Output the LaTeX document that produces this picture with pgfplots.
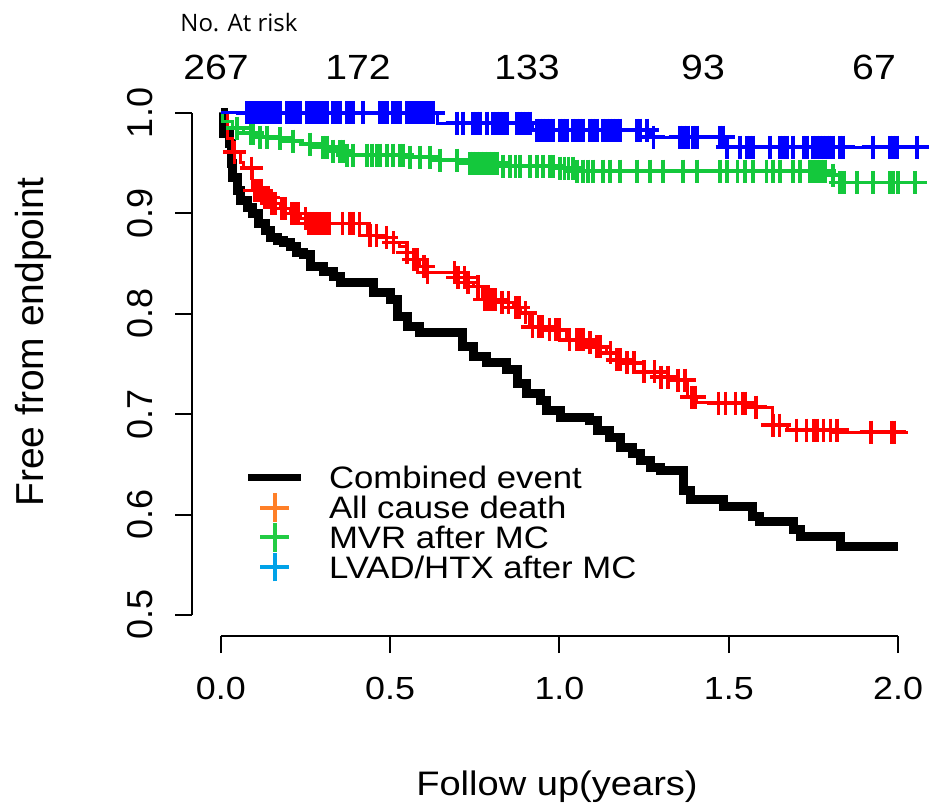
\documentclass[border=0pt]{standalone}
\usepackage{fontspec}
\setmainfont{Liberation Sans}
\newfontfamily\widefont[FakeStretch=1.12]{Liberation Sans}
\newfontfamily\risknote{Open Sans}
\usepackage{pgfplots}
\pgfplotsset{compat=1.18}

\definecolor{kmred}{RGB}{255,0,0}
\definecolor{kmgreen}{RGB}{20,200,60}
\definecolor{kmblue}{RGB}{0,0,255}
\definecolor{legorange}{RGB}{255,127,39}
\definecolor{leggreen}{RGB}{34,204,68}
\definecolor{legblue}{RGB}{0,162,232}

\begin{document}
\begin{tikzpicture}
\useasboundingbox (0,0) rectangle (464.5pt,402.5pt);
\begin{axis}[
  at={(96pt,84.5pt)}, anchor=south west,
  scale only axis, width=366.6pt, height=271.55pt,
  xmin=-0.085, xmax=2.08, ymin=0.479, ymax=1.02,
  axis x line*=bottom, axis y line*=left,
  axis line style={draw=none},
  clip=false,
  tick align=outside,
  major tick length=8.5pt,
  major tick style={black, line width=1pt},
  xtick={0,0.5,1,1.5,2}, xticklabels={0.0,0.5,1.0,1.5,2.0},
  ytick={0.5,0.6,0.7,0.8,0.9,1.0}, yticklabels={0.5,0.6,0.7,0.8,0.9,1.0},
  xticklabel style={font=\widefont\fontsize{16pt}{16pt}\selectfont, anchor=north, inner sep=0pt},
  yticklabel style={font=\fontsize{18pt}{18pt}\selectfont, rotate=90, anchor=south, inner sep=0pt},
  xticklabel shift=12pt, yticklabel shift=11pt,
  legend cell align=left,
  legend style={draw=none, fill=none, inner sep=0pt, outer sep=0pt,
    at={(0.0764,0.3183)}, anchor=north west, row sep=0pt,
    nodes={inner sep=0pt, text height=12.9pt, text depth=1.95pt,
      font=\widefont\fontsize{15.5pt}{15.5pt}\selectfont},
    /tikz/every odd column/.style={column sep=14pt}},
]
% axis lines only between first and last tick, as R draws them
\draw[line width=1pt] (axis cs:0,0.479) -- (axis cs:2,0.479);
\draw[line width=1pt] (axis cs:-0.085,0.5) -- (axis cs:-0.085,1);

% combined event
\addplot[forget plot, const plot, black, line width=4.5pt] coordinates {
(0,1.000) (0.007,0.980) (0.027,0.970) (0.033,0.950) (0.036,0.936) (0.048,0.923)
(0.057,0.913) (0.078,0.906) (0.095,0.900) (0.110,0.890) (0.131,0.883) (0.146,0.876)
(0.166,0.873) (0.184,0.871) (0.205,0.867) (0.225,0.861) (0.243,0.859) (0.264,0.847)
(0.302,0.842) (0.332,0.837) (0.352,0.831) (0.450,0.821) (0.500,0.814) (0.521,0.797)
(0.550,0.787) (0.588,0.781) (0.715,0.767) (0.745,0.757) (0.786,0.751) (0.845,0.744)
(0.875,0.731) (0.904,0.721) (0.943,0.714) (0.963,0.704) (1.002,0.697) (1.090,0.694)
(1.111,0.684) (1.149,0.677) (1.179,0.667) (1.217,0.661) (1.238,0.654) (1.268,0.647)
(1.297,0.644) (1.365,0.624) (1.386,0.615) (1.483,0.608) (1.571,0.598) (1.592,0.593)
(1.690,0.585) (1.711,0.578) (1.829,0.568) (2.000,0.568)};

% all cause death
\addplot[forget plot, const plot, kmred, line width=1.5pt] coordinates {
(0,1.000) (0.020,0.975) (0.035,0.961) (0.057,0.951) (0.066,0.945) (0.095,0.923)
(0.125,0.916) (0.146,0.910) (0.175,0.905) (0.205,0.900) (0.234,0.895) (0.255,0.890)
(0.432,0.878) (0.470,0.876) (0.509,0.871) (0.529,0.867) (0.550,0.861) (0.568,0.854)
(0.588,0.847) (0.609,0.841) (0.698,0.836) (0.727,0.831) (0.745,0.827) (0.774,0.814)
(0.825,0.811) (0.863,0.806) (0.884,0.801) (0.913,0.787) (0.963,0.784) (1.022,0.774)
(1.081,0.771) (1.099,0.767) (1.140,0.761) (1.170,0.754) (1.199,0.751) (1.247,0.742)
(1.297,0.737) (1.336,0.734) (1.377,0.717) (1.406,0.712) (1.533,0.711) (1.571,0.707)
(1.630,0.689) (1.672,0.684) (1.800,0.682) (2.030,0.682)};
\addplot[forget plot, only marks, mark=+, mark size=5.75pt, kmred, line width=1.75pt] coordinates {
(0.040,0.961) (0.090,0.945) (0.10,0.923) (0.11,0.923) (0.12,0.923) (0.13,0.916)
(0.14,0.916) (0.15,0.910) (0.16,0.910) (0.18,0.905) (0.19,0.905) (0.21,0.900)
(0.22,0.900) (0.23,0.900) (0.25,0.895) (0.26,0.890) (0.27,0.890) (0.28,0.890)
(0.29,0.890) (0.30,0.890) (0.31,0.890) (0.32,0.890) (0.36,0.890) (0.38,0.890)
(0.39,0.890) (0.41,0.890) (0.44,0.878) (0.46,0.878) (0.49,0.876) (0.51,0.871)
(0.55,0.861) (0.57,0.854) (0.58,0.854) (0.60,0.847) (0.61,0.841) (0.69,0.841)
(0.70,0.836) (0.72,0.836) (0.73,0.831) (0.76,0.827) (0.78,0.814) (0.79,0.814)
(0.80,0.814) (0.81,0.814) (0.83,0.811) (0.85,0.811) (0.87,0.806) (0.88,0.806)
(0.90,0.801) (0.92,0.787) (0.94,0.787) (0.95,0.787) (0.97,0.784) (0.99,0.784)
(1.00,0.784) (1.03,0.774) (1.05,0.774) (1.06,0.774) (1.07,0.774) (1.09,0.771)
(1.11,0.767) (1.12,0.767) (1.15,0.761) (1.17,0.754) (1.18,0.754) (1.20,0.751)
(1.22,0.751) (1.25,0.742) (1.28,0.742) (1.30,0.737) (1.32,0.737) (1.35,0.734)
(1.37,0.734) (1.39,0.717) (1.40,0.717) (1.47,0.711) (1.49,0.711) (1.52,0.711)
(1.54,0.711) (1.55,0.711) (1.58,0.707) (1.63,0.689) (1.65,0.689) (1.70,0.684)
(1.73,0.684) (1.75,0.684) (1.76,0.684) (1.78,0.684) (1.80,0.684) (1.82,0.684)
(1.92,0.682) (1.98,0.682) (1.99,0.682)};

% MVR after MC
\addplot[forget plot, const plot, kmgreen, line width=1.5pt] coordinates {
(0,1.000) (0.005,0.992) (0.035,0.985) (0.066,0.980) (0.100,0.976) (0.150,0.975)
(0.200,0.972) (0.240,0.969) (0.280,0.966) (0.330,0.962) (0.370,0.958) (0.550,0.956)
(0.630,0.953) (0.720,0.950) (0.830,0.947) (1.000,0.945) (1.050,0.942) (1.800,0.938)
(1.830,0.931) (2.075,0.931)};
\addplot[forget plot, only marks, mark=+, mark size=5.75pt, kmgreen, line width=1.75pt] coordinates {
(0.048,0.985) (0.087,0.980) (0.095,0.980) (0.116,0.976) (0.137,0.976) (0.175,0.975)
(0.213,0.972) (0.264,0.969) (0.302,0.966) (0.314,0.966) (0.332,0.962) (0.352,0.962)
(0.361,0.962) (0.373,0.958) (0.391,0.958) (0.432,0.958) (0.447,0.958) (0.461,0.958)
(0.470,0.958) (0.491,0.958) (0.509,0.958) (0.529,0.958) (0.538,0.958) (0.559,0.956)
(0.588,0.956) (0.618,0.956) (0.648,0.953) (0.698,0.953) (0.736,0.950) (0.745,0.950)
(0.757,0.950) (0.768,0.950) (0.780,0.950) (0.792,0.950) (0.804,0.950) (0.816,0.950)
(0.833,0.947) (0.854,0.947) (0.870,0.947) (0.884,0.947) (0.913,0.947) (0.934,0.947)
(0.952,0.947) (0.972,0.947) (0.981,0.947) (1.002,0.945) (1.015,0.945) (1.026,0.945)
(1.040,0.945) (1.052,0.942) (1.070,0.942) (1.085,0.942) (1.099,0.942) (1.129,0.942)
(1.149,0.942) (1.179,0.942) (1.229,0.942) (1.268,0.942) (1.306,0.942) (1.365,0.942)
(1.406,0.942) (1.474,0.942) (1.495,0.942) (1.525,0.942) (1.548,0.942) (1.571,0.942)
(1.612,0.942) (1.630,0.942) (1.651,0.942) (1.690,0.942) (1.711,0.942) (1.740,0.942)
(1.750,0.942) (1.761,0.942) (1.772,0.942) (1.784,0.942) (1.808,0.938) (1.829,0.931)
(1.840,0.931) (1.879,0.931) (1.926,0.931) (1.975,0.931) (1.985,0.931) (2.000,0.931)
(2.050,0.931)};

% LVAD/HTX after MC
\addplot[forget plot, const plot, kmblue, line width=1.5pt] coordinates {
(0,1.000) (0.640,0.990) (0.920,0.983) (1.270,0.976) (1.490,0.966) (2.070,0.966)};
\addplot[forget plot, only marks, mark=+, mark size=5.75pt, kmblue, line width=1.75pt] coordinates {
(0.078,1.0) (0.087,1.0) (0.095,1.0) (0.107,1.0) (0.116,1.0) (0.125,1.0) (0.137,1.0)
(0.146,1.0) (0.154,1.0) (0.166,1.0) (0.175,1.0) (0.196,1.0) (0.205,1.0) (0.213,1.0)
(0.225,1.0) (0.234,1.0) (0.255,1.0) (0.264,1.0) (0.273,1.0) (0.284,1.0) (0.293,1.0)
(0.302,1.0) (0.314,1.0) (0.332,1.0) (0.343,1.0) (0.352,1.0) (0.373,1.0) (0.382,1.0)
(0.391,1.0) (0.420,1.0) (0.470,1.0) (0.482,1.0) (0.491,1.0) (0.509,1.0) (0.521,1.0)
(0.529,1.0) (0.550,1.0) (0.559,1.0) (0.568,1.0) (0.580,1.0) (0.588,1.0) (0.597,1.0)
(0.609,1.0) (0.618,1.0) (0.627,1.0) (0.698,0.990) (0.715,0.990) (0.745,0.990)
(0.757,0.990) (0.766,0.990) (0.786,0.990) (0.804,0.990) (0.816,0.990) (0.825,0.990)
(0.833,0.990) (0.845,0.990) (0.875,0.990) (0.884,0.990) (0.893,0.990) (0.904,0.990)
(0.913,0.990) (0.934,0.983) (0.943,0.983) (0.952,0.983) (0.963,0.983) (0.972,0.983)
(0.981,0.983) (1.002,0.983) (1.011,0.983) (1.022,0.983) (1.040,0.983) (1.052,0.983)
(1.061,0.983) (1.070,0.983) (1.090,0.983) (1.099,0.983) (1.111,0.983) (1.129,0.983)
(1.141,0.983) (1.149,0.983) (1.158,0.983) (1.170,0.983) (1.179,0.983) (1.229,0.983)
(1.238,0.983) (1.259,0.983) (1.277,0.976) (1.356,0.976) (1.368,0.976) (1.380,0.976)
(1.395,0.976) (1.406,0.976) (1.474,0.976) (1.483,0.976) (1.495,0.966) (1.533,0.966)
(1.554,0.966) (1.562,0.966) (1.571,0.966) (1.622,0.966) (1.651,0.966) (1.660,0.966)
(1.672,0.966) (1.690,0.966) (1.720,0.966) (1.731,0.966) (1.749,0.966) (1.761,0.966)
(1.770,0.966) (1.779,0.966) (1.790,0.966) (1.798,0.966) (1.808,0.966) (1.829,0.966)
(1.838,0.966) (1.926,0.966) (1.976,0.966) (1.985,0.966) (1.997,0.966) (2.056,0.966)};

% legend (its symbols are coloured differently from the curves, as in the source)
\addlegendimage{legend image code/.code={
  \draw[overlay, black, line width=3.5pt] (0pt,0pt) -- (26.5pt,0pt);
  \path[draw=none] (0pt,0pt) -- (26.5pt,0pt);}}
\addlegendentry{Combined event}
\addlegendimage{legend image code/.code={
  \draw[overlay, legorange, line width=2pt] (6pt,0pt) -- (20.5pt,0pt) (13.25pt,-7.2pt) -- (13.25pt,7.2pt);
  \path[draw=none] (0pt,0pt) -- (26.5pt,0pt);}}
\addlegendentry{All cause death}
\addlegendimage{legend image code/.code={
  \draw[overlay, leggreen, line width=2pt] (6pt,0pt) -- (20.5pt,0pt) (13.25pt,-7.2pt) -- (13.25pt,7.2pt);
  \path[draw=none] (0pt,0pt) -- (26.5pt,0pt);}}
\addlegendentry{MVR after MC}
\addlegendimage{legend image code/.code={
  \draw[overlay, legblue, line width=2pt] (6pt,0pt) -- (20.5pt,0pt) (13.25pt,-7.2pt) -- (13.25pt,7.2pt);
  \path[draw=none] (0pt,0pt) -- (26.5pt,0pt);}}
\addlegendentry{LVAD/HTX after MC}
\end{axis}

% text outside the axis, placed in pixel units of the reference
\begin{scope}[x=0.5pt, y=-0.5pt, yshift=402.5pt]
\node[anchor=base west, inner sep=0pt, font=\risknote\fontsize{12pt}{12pt}\selectfont] at (180,32) {No. At risk};
\foreach \px/\n in {216/267, 358/172, 527/133, 703/93, 874/67}
  \node[anchor=base, inner sep=0pt, font=\widefont\fontsize{17.5pt}{17.5pt}\selectfont] at (\px,80) {\n};
\node[anchor=base, inner sep=0pt, font=\widefont\fontsize{17pt}{17pt}\selectfont] at (557,795) {Follow up(years)};
\node[anchor=base, rotate=90, inner sep=0pt, font=\fontsize{19.5pt}{19.5pt}\selectfont] at (43,342) {Free from endpoint};
\end{scope}
\end{tikzpicture}
\end{document}
